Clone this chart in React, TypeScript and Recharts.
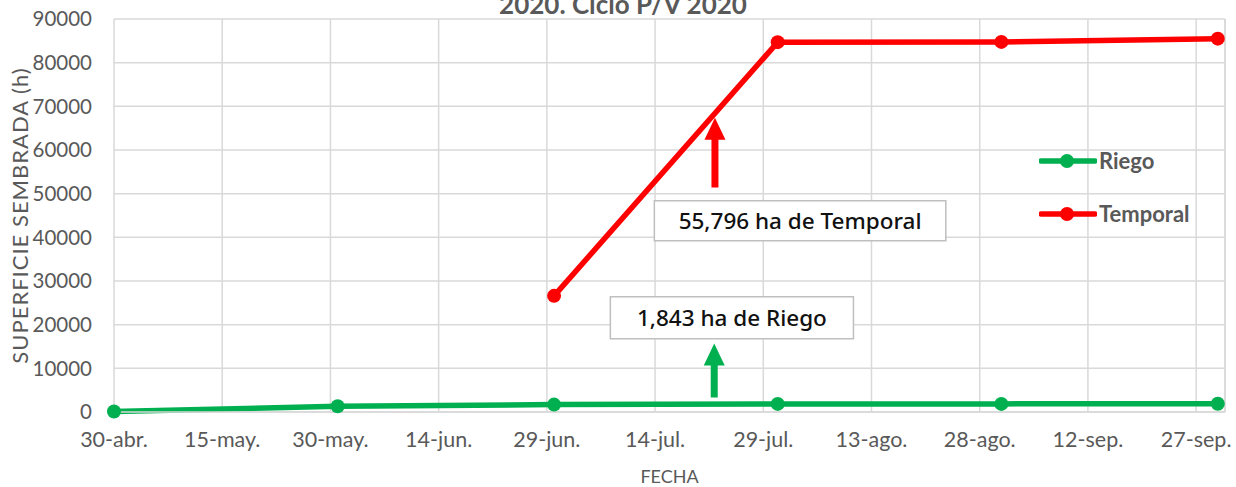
import React from 'react';
import {
  LineChart,
  Line,
  XAxis,
  YAxis,
  CartesianGrid,
  Legend,
  ReferenceArea,
  ReferenceLine,
  Customized,
} from 'recharts';

// ---------- data ----------
const START_DATE = '2020-04-30';
const dates = ['2020-04-30', '2020-05-31', '2020-06-30', '2020-07-31', '2020-08-31', '2020-09-30'];
const riego = [100, 1300, 1700, 1850, 1860, 1900];
const temporal: (number | null)[] = [null, null, 26600, 84700, 84750, 85500];

const xTickDays = [0, 15, 30, 45, 60, 75, 90, 105, 120, 135, 150];
const xTickLabels = ['30-abr.', '15-may.', '30-may.', '14-jun.', '29-jun.', '14-jul.', '29-jul.', '13-ago.', '28-ago.', '12-sep.', '27-sep.'];
const yTicks = [0, 10000, 20000, 30000, 40000, 50000, 60000, 70000, 80000, 90000];
const X_MAX_DAY = 154;

const seriesNames = ['Riego', 'Temporal'];
const annotationTexts = ['55,796 ha de Temporal', '1,843 ha de Riego'];
const titleText = '2020. Ciclo P/V 2020';

// ---------- styles ----------
const GREEN = '#00B050';
const RED = '#FF0000';
const GRID = '#d9d9d9';
const TEXT = '#595959';
const FONT = 'Lato, "Open Sans", sans-serif';
const ANNOT_FONT = '"Noto Sans", "Open Sans", sans-serif';

const dayOf = (iso: string) => Math.round((Date.parse(iso) - Date.parse(START_DATE)) / 86400000);
const data = dates.map((d, i) => ({ day: dayOf(d), riego: riego[i], temporal: temporal[i] }));

const tickLabel = (v: number) => {
  const idx = xTickDays.indexOf(v);
  return idx >= 0 ? xTickLabels[idx] : '';
};

const Arrow = (color: string) => (props: any) => {
  const { x1, y1, y2 } = props;
  if (x1 == null || y1 == null || y2 == null) return null;
  const sw = 3.5;
  const hw = 10.5;
  const hl = 22;
  const x = x1;
  const pts = [
    [x - sw, y1],
    [x - sw, y2 + hl],
    [x - hw, y2 + hl],
    [x, y2],
    [x + hw, y2 + hl],
    [x + sw, y2 + hl],
    [x + sw, y1],
  ]
    .map((p) => p.join(','))
    .join(' ');
  return <polygon points={pts} fill={color} />;
};

const legendColors = [GREEN, RED];

const LegendContent = () => (
  <div style={{ fontFamily: FONT }}>
    {seriesNames.map((name, i) => (
      <div key={name} style={{ display: 'flex', alignItems: 'center', height: 53 }}>
        <svg width={58} height={16} style={{ display: 'block' }}>
          <line x1={2} y1={8} x2={56} y2={8} stroke={legendColors[i]} strokeWidth={5.5} strokeLinecap="round" />
          <circle cx={28} cy={8} r={7} fill={legendColors[i]} />
        </svg>
        <span style={{ fontWeight: 700, fontSize: 22, color: TEXT, marginLeft: 2, lineHeight: '22px' }}>{name}</span>
      </div>
    ))}
  </div>
);

const Title = () => (
  <text x={623} y={14} textAnchor="middle" fill={TEXT} fontFamily={FONT} fontWeight={700} fontSize={26}>
    {titleText}
  </text>
);

export default function App() {
  return (
    <div style={{ position: 'relative', width: 1236, height: 487, background: '#fff' }}>
      <style>{`body{margin:0;}`}</style>
      <LineChart width={1236} height={487} data={data} margin={{ top: 19, right: 11, bottom: 0, left: 0 }}>
        <CartesianGrid stroke={GRID} strokeWidth={1.5} />
        <XAxis
          dataKey="day"
          type="number"
          domain={[0, X_MAX_DAY]}
          ticks={xTickDays}
          tickFormatter={tickLabel}
          interval={0}
          height={75}
          tickSize={0}
          tickMargin={20}
          tickLine={false}
          axisLine={{ stroke: GRID, strokeWidth: 1.5 }}
          tick={{ fill: TEXT, fontSize: 21.5, fontFamily: FONT }}
          label={{ value: 'FECHA', position: 'insideBottom', offset: 4, fill: TEXT, fontSize: 18, fontFamily: FONT }}
        />
        <YAxis
          type="number"
          domain={[0, 90000]}
          ticks={yTicks}
          interval={0}
          width={114}
          tickSize={0}
          tickMargin={22}
          tickLine={false}
          axisLine={false}
          tick={{ fill: TEXT, fontSize: 20.5, fontFamily: FONT }}
          label={{
            value: 'SUPERFICIE SEMBRADA (h)',
            angle: -90,
            position: 'insideLeft',
            offset: 20,
            fill: TEXT,
            fontSize: 22,
            fontFamily: FONT,
            style: { textAnchor: 'middle', letterSpacing: '1px' },
          }}
        />
        <ReferenceLine x={X_MAX_DAY} stroke={GRID} strokeWidth={1.5} />
        <ReferenceArea
          x1={74.9}
          x2={115.3}
          y1={39200}
          y2={48400}
          fill="#ffffff"
          fillOpacity={1}
          stroke="#bfbfbf"
          strokeWidth={1.5}
          label={{ value: annotationTexts[0], position: 'center', fill: '#111', fontSize: 22.5, fontFamily: ANNOT_FONT, fontWeight: 500 }}
        />
        <ReferenceArea
          x1={68.8}
          x2={102.5}
          y1={16800}
          y2={26400}
          fill="#ffffff"
          fillOpacity={1}
          stroke="#bfbfbf"
          strokeWidth={1.5}
          label={{ value: annotationTexts[1], position: 'center', fill: '#111', fontSize: 22.5, fontFamily: ANNOT_FONT, fontWeight: 500 }}
        />
        <ReferenceLine
          segment={[
            { x: 83.3, y: 51400 },
            { x: 83.3, y: 67400 },
          ]}
          shape={Arrow(RED)}
        />
        <ReferenceLine
          segment={[
            { x: 83.2, y: 3300 },
            { x: 83.2, y: 15700 },
          ]}
          shape={Arrow(GREEN)}
        />
        <Line
          type="linear"
          dataKey="riego"
          name={seriesNames[0]}
          stroke={GREEN}
          strokeWidth={5.5}
          dot={{ r: 7, fill: GREEN, stroke: GREEN, strokeWidth: 0 }}
          activeDot={false}
          isAnimationActive={false}
        />
        <Line
          type="linear"
          dataKey="temporal"
          name={seriesNames[1]}
          stroke={RED}
          strokeWidth={5.5}
          connectNulls={false}
          dot={{ r: 7, fill: RED, stroke: RED, strokeWidth: 0 }}
          activeDot={false}
          isAnimationActive={false}
        />
        <Legend
          layout="vertical"
          align="center"
          verticalAlign="middle"
          wrapperStyle={{ position: 'absolute', left: 1039, top: 134, width: 190, height: 106 }}
          content={LegendContent}
        />
        <Customized component={Title} />
      </LineChart>
    </div>
  );
}
